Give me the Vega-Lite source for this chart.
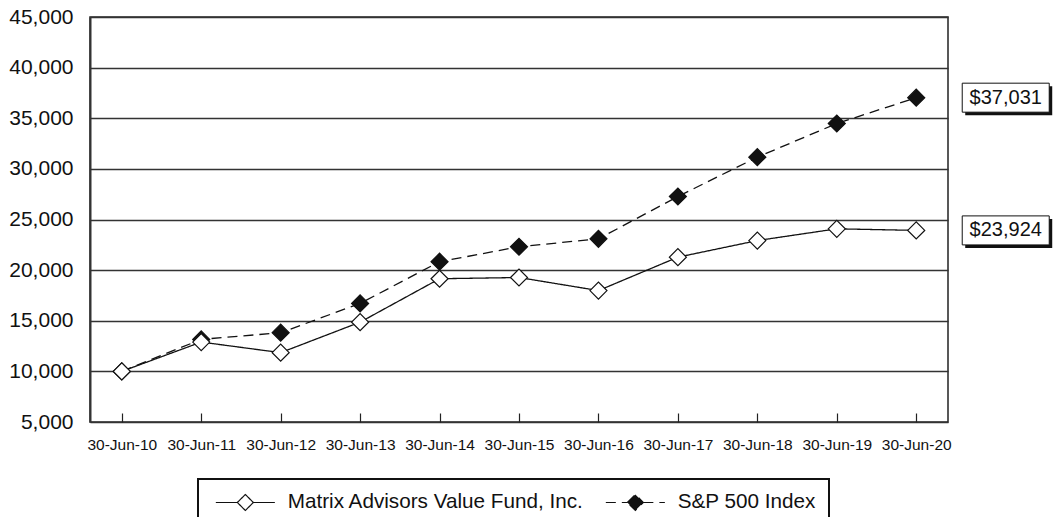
{
  "$schema": "https://vega.github.io/schema/vega-lite/v6.json",
  "width": 858,
  "height": 405,
  "autosize": {"type": "none"},
  "padding": {"left": 90, "top": 17, "right": 108, "bottom": 95},
  "background": "white",
  "config": {
    "view": {"stroke": "#222", "strokeWidth": 1.5},
    "font": "Liberation Sans",
    "legend": {"strokeWidth": 2}
  },
  "data": {
    "values": [
      {"date": "30-Jun-10", "series": "S&P 500 Index", "value": 10000},
      {"date": "30-Jun-11", "series": "S&P 500 Index", "value": 13160},
      {"date": "30-Jun-12", "series": "S&P 500 Index", "value": 13820},
      {"date": "30-Jun-13", "series": "S&P 500 Index", "value": 16710},
      {"date": "30-Jun-14", "series": "S&P 500 Index", "value": 20830},
      {"date": "30-Jun-15", "series": "S&P 500 Index", "value": 22310},
      {"date": "30-Jun-16", "series": "S&P 500 Index", "value": 23090},
      {"date": "30-Jun-17", "series": "S&P 500 Index", "value": 27270},
      {"date": "30-Jun-18", "series": "S&P 500 Index", "value": 31160},
      {"date": "30-Jun-19", "series": "S&P 500 Index", "value": 34480},
      {"date": "30-Jun-20", "series": "S&P 500 Index", "value": 37031},
      {"date": "30-Jun-10", "series": "Matrix Advisors Value Fund, Inc.", "value": 10000},
      {"date": "30-Jun-11", "series": "Matrix Advisors Value Fund, Inc.", "value": 12895},
      {"date": "30-Jun-12", "series": "Matrix Advisors Value Fund, Inc.", "value": 11850},
      {"date": "30-Jun-13", "series": "Matrix Advisors Value Fund, Inc.", "value": 14860},
      {"date": "30-Jun-14", "series": "Matrix Advisors Value Fund, Inc.", "value": 19150},
      {"date": "30-Jun-15", "series": "Matrix Advisors Value Fund, Inc.", "value": 19270},
      {"date": "30-Jun-16", "series": "Matrix Advisors Value Fund, Inc.", "value": 17980},
      {"date": "30-Jun-17", "series": "Matrix Advisors Value Fund, Inc.", "value": 21280},
      {"date": "30-Jun-18", "series": "Matrix Advisors Value Fund, Inc.", "value": 22920},
      {"date": "30-Jun-19", "series": "Matrix Advisors Value Fund, Inc.", "value": 24080},
      {"date": "30-Jun-20", "series": "Matrix Advisors Value Fund, Inc.", "value": 23924}
    ]
  },
  "encoding": {
    "x": {
      "field": "date",
      "type": "ordinal",
      "sort": null,
      "scale": {"type": "point", "padding": 0.4},
      "axis": {
        "title": null,
        "labelAngle": 0,
        "domain": false,
        "grid": false,
        "ticks": true,
        "tickSize": -9,
        "tickColor": "#222",
        "tickWidth": 1.2,
        "labelPadding": 24,
        "labelFontSize": 15.5,
        "labelColor": "#111",
        "labelFont": "Liberation Sans",
        "labelBaseline": "top"
      }
    },
    "y": {
      "field": "value",
      "type": "quantitative",
      "scale": {"domain": [5000, 45000], "nice": false, "zero": false},
      "axis": {
        "title": null,
        "values": [5000, 10000, 15000, 20000, 25000, 30000, 35000, 40000, 45000],
        "format": ",.0f",
        "domain": true,
        "domainColor": "#333",
        "domainWidth": 2,
        "ticks": false,
        "tickSize": 0,
        "grid": true,
        "gridColor": "#333",
        "gridWidth": 1.3,
        "gridOpacity": 1,
        "labelPadding": 17,
        "labelFontSize": 21,
        "labelColor": "#111",
        "labelFont": "Liberation Sans"
      }
    }
  },
  "layer": [
    {
      "mark": {"type": "line", "stroke": "#111", "strokeWidth": 1.3},
      "encoding": {
        "strokeDash": {
          "field": "series",
          "type": "nominal",
          "scale": {
            "domain": ["Matrix Advisors Value Fund, Inc.", "S&P 500 Index"],
            "range": [[1, 0], [10, 6]]
          },
          "legend": {
            "title": null,
            "orient": "none",
            "legendX": 108,
            "legendY": 462,
            "direction": "horizontal",
            "symbolType": "M-3.69,0L-1,0M1,0L3.69,0M-1,0L0,-1L1,0L0,1Z",
            "symbolSize": 256,
            "symbolOffset": 24,
            "symbolStrokeColor": "#111",
            "symbolStrokeWidth": 1.2,
            "labelOffset": 32,
            "labelFontSize": 20.7,
            "labelFont": "Liberation Sans",
            "labelColor": "#111",
            "labelLimit": 600,
            "columnPadding": 17,
            "padding": 13,
            "strokeColor": "#111",
            "fillColor": "white",
            "encode": {
              "symbols": {
                "update": {
                  "fill": {"signal": "datum.value === 'S&P 500 Index' ? '#111' : 'white'"},
                  "stroke": {"value": "#111"},
                  "opacity": {"value": 1}
                }
              }
            }
          }
        }
      }
    },
    {
      "mark": {"type": "point", "shape": "diamond", "filled": true, "size": 289, "stroke": "#111", "strokeWidth": 1.2, "opacity": 1},
      "encoding": {
        "fill": {
          "field": "series",
          "type": "nominal",
          "scale": {
            "domain": ["Matrix Advisors Value Fund, Inc.", "S&P 500 Index"],
            "range": ["white", "#111"]
          },
          "legend": null
        }
      }
    },
    {
      "transform": [{"filter": "datum.date === '30-Jun-20'"}],
      "mark": {"type": "point", "shape": "M0.98,-0.23H2.72V0.35H0.98Z", "size": 10000, "filled": true, "fill": "#111", "strokeWidth": 0, "opacity": 1}
    },
    {
      "transform": [{"filter": "datum.date === '30-Jun-20'"}],
      "mark": {"type": "point", "shape": "M0.92,-0.29H2.66V0.29H0.92Z", "size": 10000, "filled": true, "fill": "white", "stroke": "#111", "strokeWidth": 1, "opacity": 1}
    },
    {
      "transform": [{"filter": "datum.date === '30-Jun-20'"}],
      "mark": {"type": "text", "dx": 89.5, "fontSize": 20, "font": "Liberation Sans", "align": "center", "baseline": "middle", "color": "#111"},
      "encoding": {
        "text": {"field": "value", "type": "quantitative", "format": "$,.0f"}
      }
    }
  ]
}
